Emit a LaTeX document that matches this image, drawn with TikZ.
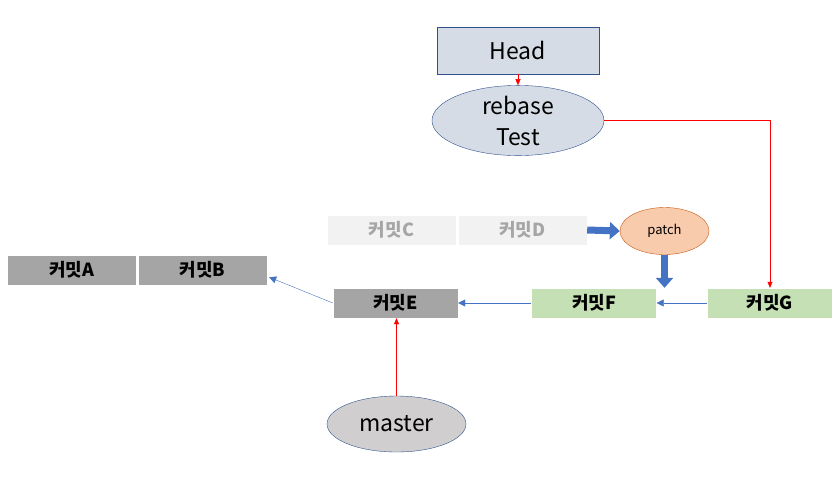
\documentclass[tikz,border=0pt]{standalone}
\usepackage{fontspec}
\setmainfont{Noto Sans CJK KR}
\usetikzlibrary{shapes.geometric, arrows.meta}

\definecolor{headfill}{HTML}{D6DCE5}
\definecolor{navy}{HTML}{2F528F}
\definecolor{darkgray}{HTML}{A5A5A5}
\definecolor{ghost}{HTML}{F2F2F2}
\definecolor{ghosttext}{HTML}{A6A6A6}
\definecolor{green}{HTML}{C5E0B4}
\definecolor{peach}{HTML}{F8CBAD}
\definecolor{rust}{HTML}{C55A11}
\definecolor{link}{HTML}{4472C4}
\definecolor{mastergray}{HTML}{D0CECE}

\begin{document}
\begin{tikzpicture}[x=1pt, y=-1pt,
  commit/.style={draw=white, minimum width=129pt, minimum height=30pt,
    inner sep=0pt, font=\fontsize{18}{18}\selectfont\bfseries},
  pointer/.style={ellipse, draw=navy, inner sep=0pt,
    font=\fontsize{23}{24}\selectfont},
  parent/.style={link, -{Triangle[width=7pt,length=7pt]}},
  refline/.style={red, -{Triangle[width=5pt,length=6pt]}},
  patchflow/.style={link, line width=7pt, -{Triangle[width=17pt,length=10pt]}}]
  \useasboundingbox (0,0) rectangle (840,483);

  % refs
  \node[draw=navy, fill=headfill, minimum width=162pt, minimum height=47pt,
    font=\fontsize{23}{24}\selectfont] (head) at (518,50.5) {Head};
  \node[pointer, fill=headfill, minimum width=172pt, minimum height=51pt,
    align=center, font=\fontsize{23}{31}\selectfont] (rebase) at (518,120.5)
    {rebase\\Test};
  \node[pointer, fill=mastergray, minimum width=139pt, minimum height=56pt]
    (master) at (396.5,424) {master};

  % commits
  \node[commit, fill=darkgray] (A) at (71.5,270) {커밋A};
  \node[commit, fill=darkgray] (B) at (202.5,270) {커밋B};
  \node[commit, fill=ghost, text=ghosttext] (C) at (391.5,230) {커밋C};
  \node[commit, fill=ghost, text=ghosttext] (D) at (522.5,230) {커밋D};
  \node[commit, fill=darkgray, minimum width=125pt] (E) at (395.5,303) {커밋E};
  \node[commit, fill=green, minimum width=125pt] (F) at (594,303) {커밋F};
  \node[commit, fill=green, minimum width=125pt] (G) at (770,303) {커밋G};

  \node[ellipse, draw=rust, fill=peach, minimum width=89pt, minimum height=47pt,
    inner sep=0pt, font=\fontsize{13}{13}\selectfont] (patch) at (664.5,231) {patch};

  % history
  \draw[parent] (G.west) -- (F.east);
  \draw[parent] (F.west) -- (E.east);
  \draw[parent] (E.west) -- ([xshift=2pt,yshift=8pt]B.south east);

  \draw[patchflow] (D.east) -- (patch.west);
  \draw[patchflow] (patch.south) -- (patch.south |- F.north);

  \draw[refline] (head.south) -- (rebase.north);
  \draw[refline] (rebase.east) -| (G.north);
  \draw[refline] (master.north) -- (master.north |- E.south);
\end{tikzpicture}
\end{document}
